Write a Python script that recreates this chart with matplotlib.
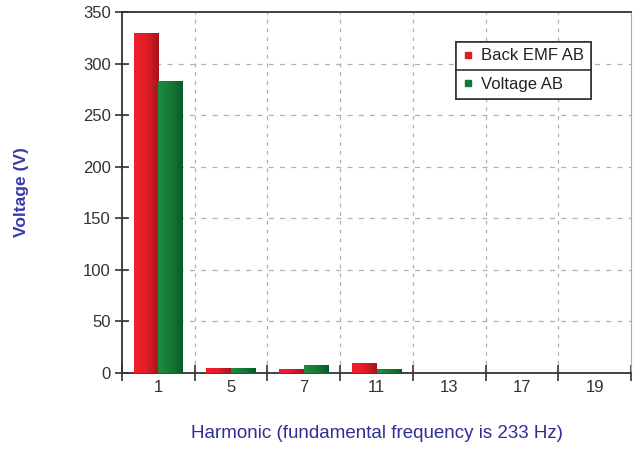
import matplotlib
matplotlib.use("Agg")
import matplotlib.pyplot as plt
import numpy as np
from matplotlib.lines import Line2D
from matplotlib.colors import LinearSegmentedColormap

plt.rcParams['font.family'] = ['Liberation Sans', 'DejaVu Sans']

harmonics = ['1', '5', '7', '11', '13', '17', '19']
back_emf = [330, 4.5, 4.0, 9.5, 0, 0, 0]
voltage = [283, 4.5, 7.5, 4.0, 0, 0, 0]
yticks = [0, 50, 100, 150, 200, 250, 300, 350]

fig = plt.figure(figsize=(6.38, 4.51), dpi=100)
ax = fig.add_axes([122/638, 1-373/451, (631-122)/638, (373-12)/451])

x = np.arange(len(harmonics)) + 0.5
w = 0.34
red_bars = ax.bar(x - w/2, back_emf, width=w, color='#d81f27', zorder=3)
green_bars = ax.bar(x + w/2, voltage, width=w, color='#137a35', zorder=3)

red_cmap = LinearSegmentedColormap.from_list('r', ['#f0202b', '#e21d28', '#a5131c'])
green_cmap = LinearSegmentedColormap.from_list('g', ['#1e8c40', '#137a35', '#0b5a26'])
grad = np.linspace(0, 1, 64).reshape(1, -1)
for bars, cmap in ((red_bars, red_cmap), (green_bars, green_cmap)):
    for p in bars:
        if p.get_height() <= 0:
            continue
        x0, y0 = p.get_x(), p.get_y()
        im = ax.imshow(grad, cmap=cmap, aspect='auto', zorder=3.5,
                       extent=[x0, x0 + p.get_width(), y0, y0 + p.get_height()],
                       interpolation='bilinear')
        im.set_clip_path(p)

ax.set_xlim(0, len(harmonics))
ax.set_ylim(0, 350)

ax.set_xticks(np.arange(0, len(harmonics) + 1))
ax.set_xticklabels([])
ax.set_xticks(x, minor=True)
ax.set_xticklabels(harmonics, minor=True)
ax.tick_params(axis='x', which='major', direction='inout', length=11, width=1.2, color='#333333')
ax.tick_params(axis='x', which='minor', length=0, pad=5, labelsize=12, labelcolor='#333333')

ax.set_yticks(yticks)
ax.tick_params(axis='y', direction='inout', length=10, width=1.2, color='#333333',
               labelsize=12, labelcolor='#333333', pad=3)

for v in yticks[1:-1]:
    ax.axhline(v, color='#b0b0b0', lw=0.9, ls=(0, (4, 5)), zorder=1)
for b in range(1, len(harmonics)):
    ax.axvline(b, color='#b0b0b0', lw=0.9, ls=(0, (3, 4)), zorder=1)

for s in ('left', 'bottom', 'top'):
    ax.spines[s].set_color('#333333')
    ax.spines[s].set_linewidth(1.3)
ax.spines['right'].set_color('#aaaaaa')
ax.spines['right'].set_linewidth(0.8)

ax.set_ylabel('Voltage (V)', color='#3a3aa8', fontsize=12.5, fontweight='bold', labelpad=39)
ax.set_xlabel('Harmonic (fundamental frequency is 233 Hz)', color='#2e2e96', fontsize=13.5, labelpad=22)

labels = ['Back EMF AB', 'Voltage AB']
colors = ['#d81f27', '#137a35']
bottoms = [1-70/451, 1-98/451]
for lab, col, bot in zip(labels, colors, bottoms):
    h = Line2D([], [], marker='s', ls='none', color=col, markersize=4.5)
    leg = fig.legend([h], [lab], loc='center left', bbox_to_anchor=(456/638, bot, 135/638, 28/451),
                     mode='expand', borderaxespad=0, fancybox=False, framealpha=1,
                     edgecolor='#333333', fontsize=12, handlelength=0.6, handletextpad=0.5,
                     borderpad=0.42, labelcolor='#222222')
    leg.get_frame().set_linewidth(1.2)
    fig.add_artist(leg)

fig.savefig('out.png', dpi=100)
